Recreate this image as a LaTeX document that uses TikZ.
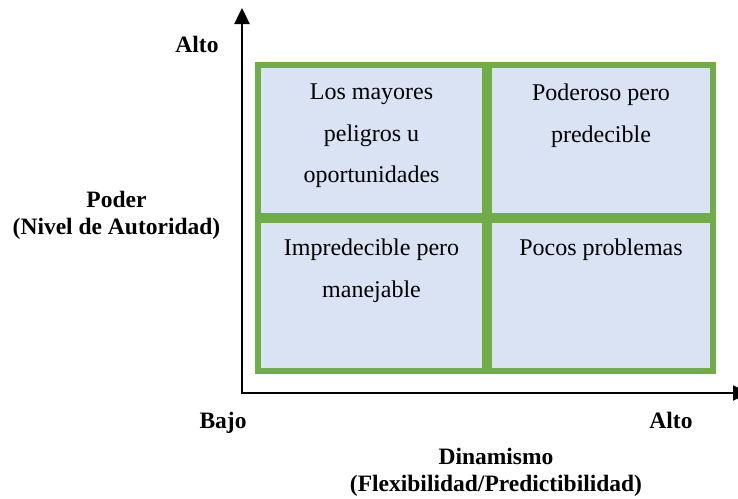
\documentclass[tikz,border=0pt]{standalone}
\usepackage{fontspec}
\setmainfont{Liberation Serif}
\usetikzlibrary{arrows.meta}
\definecolor{cellgreen}{HTML}{70AD47}
\definecolor{cellblue}{HTML}{DAE3F3}
\tikzset{
  cell/.style={draw=cellgreen, fill=cellblue, line width=6pt, inner sep=0pt, outer sep=0pt, minimum height=151pt},
  celltext/.style={anchor=north, align=center, inner sep=0pt, font=\fontsize{24}{41.5}\selectfont},
  axislabel/.style={align=center, inner sep=0pt, font=\bfseries\fontsize{23.5}{26.5}\selectfont},
  axis/.style={line width=2.4pt, {Triangle[width=15pt,length=16pt]}-{Triangle[width=15pt,length=16pt]}}
}
\begin{document}
\begin{tikzpicture}[x=1pt,y=-1pt]
\useasboundingbox (0,0) rectangle (738,498);
% cells
\node[cell, minimum width=227pt] (tl) at (371.5,140.5) {};
\node[cell, minimum width=224pt] (tr) at (601,140.5) {};
\node[cell, minimum width=227pt] (bl) at (371.5,295.5) {};
\node[cell, minimum width=224pt] (br) at (601,295.5) {};
% cell texts
\node[celltext] (t1) at ([yshift=-19pt]tl.north) {Los mayores\\peligros u\\oportunidades};
\node[celltext] (t2) at ([yshift=-19pt]tr.north) {Poderoso pero\\predecible};
\node[celltext] (t3) at ([yshift=-19pt]bl.north) {Impredecible pero\\manejable};
\node[celltext] (t4) at ([yshift=-19pt]br.north) {Pocos problemas};
% axes
\coordinate (o) at (242,393);
\coordinate (ytip) at (242,8);
\coordinate (xtip) at (749,393);
\draw[axis] (ytip) -- (o) -- (xtip);
% axis labels
\node[axislabel, anchor=base] (altoy) at (197,52) {Alto};
\node[axislabel, anchor=north] (poder) at (116.5,191) {Poder\\(Nivel de Autoridad)};
\node[axislabel, anchor=base] (bajo) at (223,428) {Bajo};
\node[axislabel, anchor=base] (altox) at (671,428) {Alto};
\node[axislabel, anchor=north] (dina) at (496,448) {Dinamismo\\(Flexibilidad/Predictibilidad)};
\end{tikzpicture}
\end{document}
